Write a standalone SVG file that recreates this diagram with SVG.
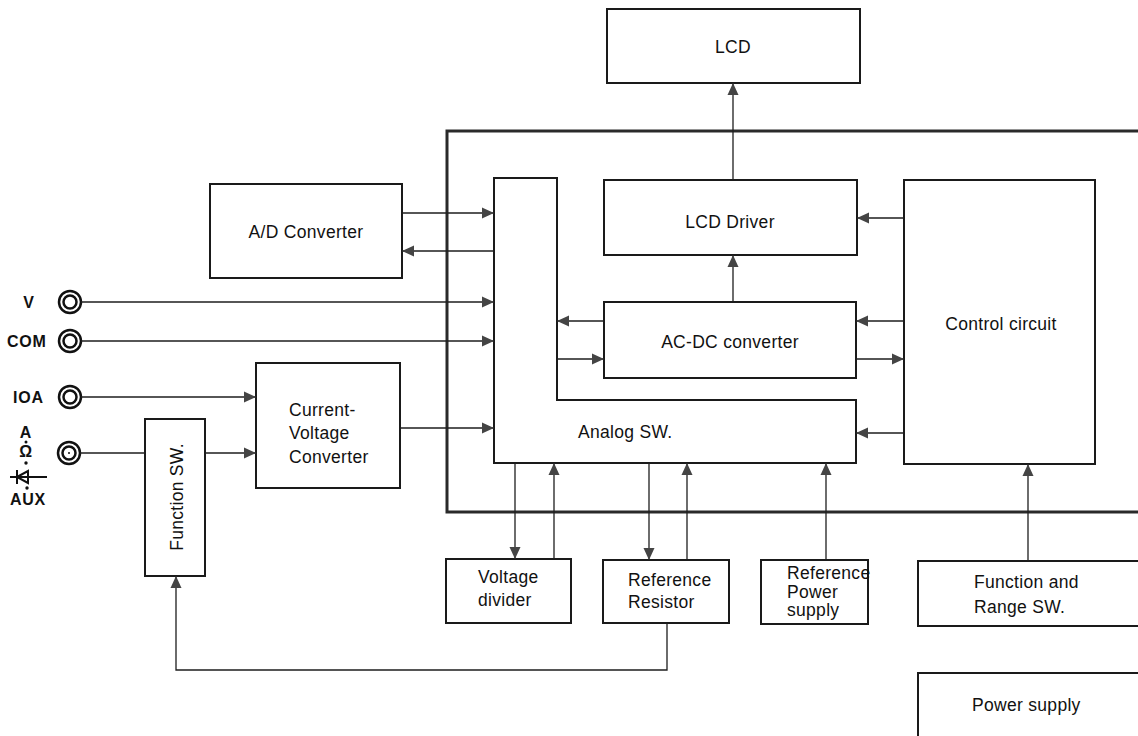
<svg xmlns="http://www.w3.org/2000/svg" width="1138" height="736" viewBox="0 0 1138 736">
<style>
.box{fill:#fff;stroke:#1a1a1a;stroke-width:2}
.frame{fill:none;stroke:#2a2a2a;stroke-width:3}
.ln{fill:none;stroke:#1e1e1e;stroke-width:1.3}
.arr{marker-end:url(#ah)}
.t{font-family:"Liberation Sans",Arial,sans-serif;font-size:17.5px;letter-spacing:0.3px;fill:#111}
.c{text-anchor:middle}
.term{font-family:"Liberation Sans",Arial,sans-serif;font-size:16px;font-weight:bold;letter-spacing:0.8px;fill:#111}
.ring{fill:#fff;stroke:#111;stroke-width:2.5}
</style>
<defs>
<marker id="ah" markerUnits="userSpaceOnUse" markerWidth="12" markerHeight="12" viewBox="0 0 12 12" refX="12" refY="6" orient="auto">
<path d="M0,0.5 L12,6 L0,11.5 z" fill="#444"/>
</marker>
</defs>

<path class="frame" d="M1140,131 H447 V512 H1140"/>

<g id="lcd"><rect class="box" x="607" y="9" width="253" height="74"/><text class="t c" x="733" y="53">LCD</text></g>
<g id="lcd-driver"><rect class="box" x="604" y="180" width="253" height="75"/><text class="t c" x="730" y="228">LCD Driver</text></g>
<g id="acdc"><rect class="box" x="604" y="302" width="252" height="76"/><text class="t c" x="730" y="348">AC-DC converter</text></g>
<g id="analog-sw"><path class="box" d="M494,178 H557 V400 H856 V463 H494 Z"/><text class="t" x="578" y="438">Analog SW.</text></g>
<g id="control"><rect class="box" x="904" y="180" width="191" height="284"/><text class="t c" x="1001" y="330">Control circuit</text></g>
<g id="ad"><rect class="box" x="210" y="184" width="192" height="94"/><text class="t c" x="306" y="238">A/D Converter</text></g>
<g id="cv"><rect class="box" x="256" y="363" width="144" height="125"/><text class="t" x="289" y="416">Current-</text><text class="t" x="289" y="439">Voltage</text><text class="t" x="289" y="463">Converter</text></g>
<g id="func-sw"><rect class="box" x="145" y="419" width="60" height="157"/><text class="t c" transform="translate(183,497) rotate(-90)">Function SW.</text></g>
<g id="vdiv"><rect class="box" x="446" y="559" width="125" height="64"/><text class="t" x="478" y="583">Voltage</text><text class="t" x="478" y="606">divider</text></g>
<g id="refres"><rect class="box" x="603" y="560" width="126" height="63"/><text class="t" x="628" y="586">Reference</text><text class="t" x="628" y="608">Resistor</text></g>
<g id="refpow"><rect class="box" x="761" y="560" width="107" height="64"/><text class="t" x="787" y="579">Reference</text><text class="t" x="787" y="598">Power</text><text class="t" x="787" y="616">supply</text></g>
<g id="funcrange"><rect class="box" x="918" y="561" width="230" height="65"/><text class="t" x="974" y="588">Function and</text><text class="t" x="974" y="613">Range SW.</text></g>
<g id="power"><rect class="box" x="918" y="673" width="230" height="80"/><text class="t" x="972" y="711">Power supply</text></g>

<g id="term-v"><circle class="ring" cx="70" cy="302" r="11"/><circle class="ring" cx="70" cy="302" r="6.5"/><text class="term c" x="29" y="308">V</text></g>
<g id="term-com"><circle class="ring" cx="70" cy="341" r="11"/><circle class="ring" cx="70" cy="341" r="6.5"/><text class="term" x="7" y="347">COM</text></g>
<g id="term-10a"><circle class="ring" cx="70" cy="397" r="11"/><circle class="ring" cx="70" cy="397" r="6.5"/><text class="term" x="13" y="403">IOA</text></g>
<g id="term-aux"><circle class="ring" cx="69" cy="453" r="11"/><circle class="ring" cx="69" cy="453" r="6.5"/><circle cx="69" cy="453" r="1" fill="#111"/>
<text class="term c" x="26" y="438">A</text>
<circle cx="26" cy="442" r="1.5" fill="#111"/>
<text class="term c" x="26" y="457">Ω</text>
<circle cx="26" cy="463" r="1.7" fill="#111"/>
<path d="M10,477 H47 M17,470 V484" fill="none" stroke="#111" stroke-width="2"/>
<path d="M17,477 L28,471 L28,483 Z" fill="none" stroke="#111" stroke-width="2"/>
<circle cx="27" cy="488" r="1.7" fill="#111"/>
<text class="term c" x="28" y="505">AUX</text></g>

<g id="connectors">
<path class="ln arr" d="M733,180 V83"/>
<path class="ln arr" d="M733,302 V255"/>
<path class="ln arr" d="M904,218 H857"/>
<path class="ln arr" d="M604,321 H557"/>
<path class="ln arr" d="M557,359 H604"/>
<path class="ln arr" d="M904,321 H856"/>
<path class="ln arr" d="M856,359 H904"/>
<path class="ln arr" d="M904,433 H856"/>
<path class="ln arr" d="M402,213 H494"/>
<path class="ln arr" d="M494,251 H402"/>
<path class="ln arr" d="M81,302 H494"/>
<path class="ln arr" d="M81,341 H494"/>
<path class="ln arr" d="M81,397 H256"/>
<path class="ln" d="M80,453 H145"/>
<path class="ln arr" d="M205,453 H256"/>
<path class="ln arr" d="M400,428 H494"/>
<path class="ln arr" d="M515,463 V559"/>
<path class="ln arr" d="M554,559 V463"/>
<path class="ln arr" d="M649,463 V560"/>
<path class="ln arr" d="M687,560 V463"/>
<path class="ln arr" d="M826,560 V463"/>
<path class="ln arr" d="M1028,561 V464"/>
<path class="ln arr" d="M667,623 V670 H176 V576"/>
</g>
</svg>
